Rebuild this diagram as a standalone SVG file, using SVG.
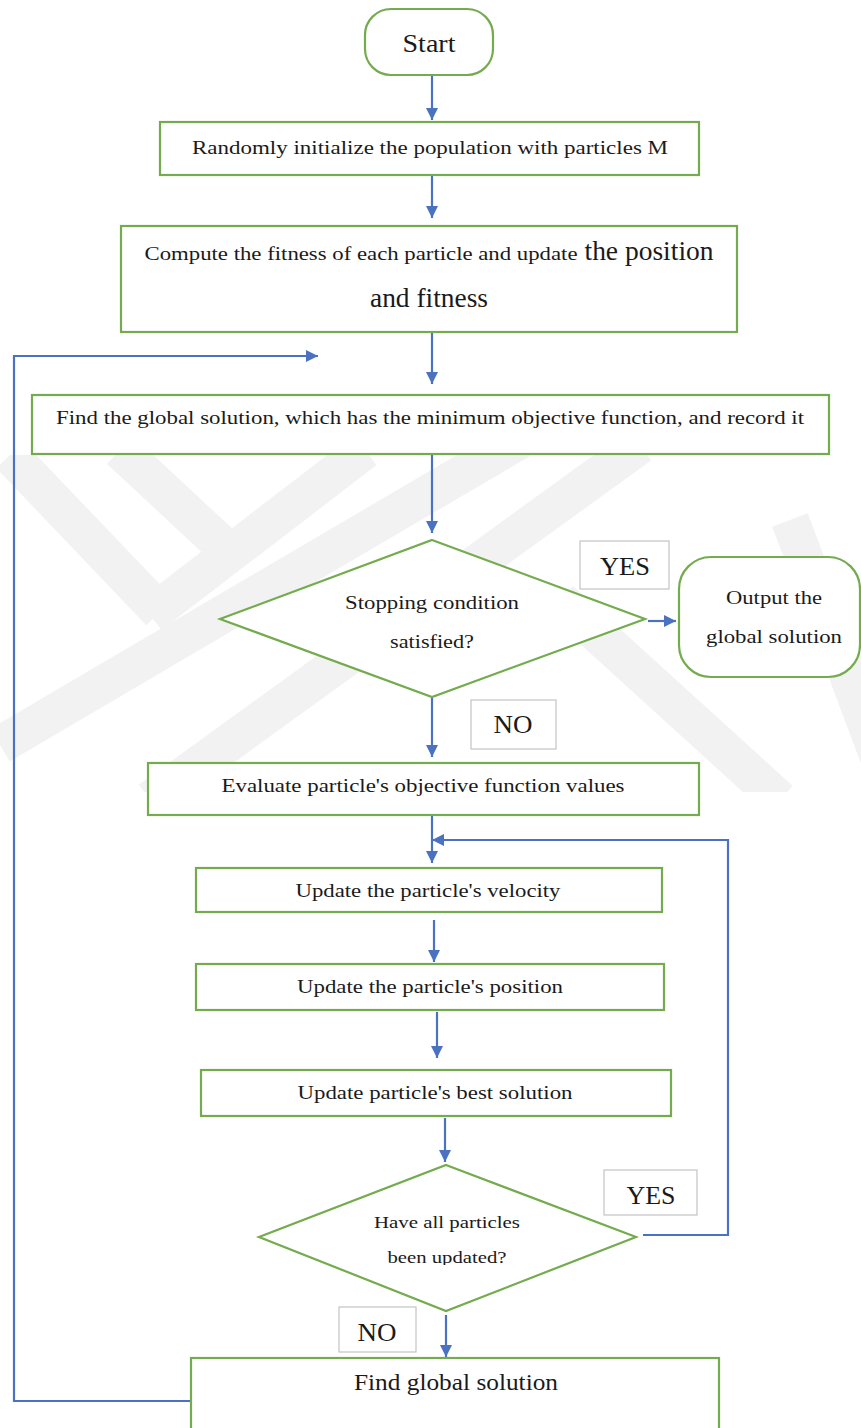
<svg xmlns="http://www.w3.org/2000/svg" width="861" height="1428" viewBox="0 0 861 1428">
<defs>
<style>
.node{fill:#ffffff;stroke:#74ab4e;stroke-width:2.2}
.lbl{fill:#ffffff;stroke:#c4c4c4;stroke-width:1.2}
.t{font-family:'Liberation Serif','DejaVu Serif',serif;fill:#1a1a1a;text-anchor:middle}
.c{fill:none;stroke:#4a72c0;stroke-width:2.2}
.wm{fill:none;stroke:#f2f2f2;stroke-width:38}
</style>
<marker id="ah" viewBox="0 0 10 10" refX="10" refY="5" markerWidth="5.5" markerHeight="5.5" orient="auto" markerUnits="strokeWidth">
<path d="M0,0 L10,5 L0,10 z" fill="#4a72c0"/>
</marker>
<clipPath id="wmclip"><rect x="0" y="455" width="861" height="337"/></clipPath>
<clipPath id="c1"><rect x="300" y="620" width="260" height="28"/></clipPath>
<clipPath id="c2"><rect x="300" y="1240" width="260" height="25"/></clipPath>
</defs>
<rect width="861" height="1428" fill="#ffffff"/>
<g id="watermark" clip-path="url(#wmclip)">
<line class="wm" x1="10" y1="455" x2="160" y2="612"/>
<line class="wm" x1="120" y1="450" x2="222" y2="545"/>
<line class="wm" x1="150" y1="615" x2="365" y2="450"/>
<line class="wm" x1="0" y1="745" x2="520" y2="440"/>
<line class="wm" x1="150" y1="800" x2="640" y2="445"/>
<line class="wm" x1="560" y1="600" x2="780" y2="800"/>
<line class="wm" x1="790" y1="520" x2="880" y2="760"/>
</g>
<g id="connectors">
<line class="c" x1="432" y1="76" x2="432" y2="120" marker-end="url(#ah)"/>
<line class="c" x1="432" y1="176" x2="432" y2="218" marker-end="url(#ah)"/>
<line class="c" x1="432" y1="333" x2="432" y2="384" marker-end="url(#ah)"/>
<polyline class="c" points="191,1401 14,1401 14,356 318,356" marker-end="url(#ah)"/>
<line class="c" x1="432" y1="455" x2="432" y2="533" marker-end="url(#ah)"/>
<line class="c" x1="648" y1="621" x2="676" y2="621" marker-end="url(#ah)"/>
<line class="c" x1="432" y1="698" x2="432" y2="757" marker-end="url(#ah)"/>
<line class="c" x1="432" y1="816" x2="432" y2="863" marker-end="url(#ah)"/>
<polyline class="c" points="643,1235 728,1235 728,840 432,840" marker-end="url(#ah)"/>
<line class="c" x1="434" y1="920" x2="434" y2="962" marker-end="url(#ah)"/>
<line class="c" x1="437" y1="1012" x2="437" y2="1058" marker-end="url(#ah)"/>
<line class="c" x1="445" y1="1118" x2="445" y2="1162" marker-end="url(#ah)"/>
<line class="c" x1="446" y1="1315" x2="446" y2="1357" marker-end="url(#ah)"/>
</g>
<g id="start">
<rect class="node" x="365" y="9" width="128" height="66" rx="26"/>
<text class="t" x="429" y="52" font-size="26" textLength="53" lengthAdjust="spacingAndGlyphs">Start</text>
</g>
<g id="init">
<rect class="node" x="160" y="122" width="539" height="53"/>
<text class="t" x="430" y="154" font-size="19" textLength="476" lengthAdjust="spacingAndGlyphs">Randomly initialize the population with particles M</text>
</g>
<g id="fitness">
<rect class="node" x="121" y="226" width="616" height="106"/>
<text class="t" x="361" y="260" font-size="18.5" textLength="433" lengthAdjust="spacingAndGlyphs">Compute the fitness of each particle and update</text>
<text class="t" x="649" y="260" font-size="27" textLength="129" lengthAdjust="spacingAndGlyphs">the position</text>
<text class="t" x="429" y="307" font-size="27" textLength="118" lengthAdjust="spacingAndGlyphs">and fitness</text>
</g>
<g id="findglobal1">
<rect class="node" x="32" y="395" width="797" height="59"/>
<text class="t" x="430" y="424" font-size="19.5" textLength="748" lengthAdjust="spacingAndGlyphs">Find the global solution, which has the minimum objective function, and record it</text>
</g>
<g id="stopping">
<polygon class="node" points="432,540 645,619 432,697 220,619"/>
<text class="t" x="432" y="609" font-size="19" textLength="174" lengthAdjust="spacingAndGlyphs">Stopping condition</text>
<text class="t" x="432" y="648" font-size="19" textLength="84" lengthAdjust="spacingAndGlyphs" clip-path="url(#c1)">satisfied?</text>
</g>
<g id="yes1">
<rect class="lbl" x="580" y="541" width="89" height="48"/>
<text class="t" x="625" y="575" font-size="26" textLength="50" lengthAdjust="spacingAndGlyphs">YES</text>
</g>
<g id="output">
<rect class="node" x="679" y="557" width="181" height="120" rx="32"/>
<text class="t" x="774" y="604" font-size="19" textLength="96" lengthAdjust="spacingAndGlyphs">Output the</text>
<text class="t" x="774" y="643" font-size="19" textLength="136" lengthAdjust="spacingAndGlyphs">global solution</text>
</g>
<g id="no1">
<rect class="lbl" x="471" y="700" width="85" height="49"/>
<text class="t" x="513" y="733" font-size="26" textLength="39" lengthAdjust="spacingAndGlyphs">NO</text>
</g>
<g id="evaluate">
<rect class="node" x="148" y="763" width="551" height="52"/>
<text class="t" x="423" y="792" font-size="19" textLength="403" lengthAdjust="spacingAndGlyphs">Evaluate particle's objective function values</text>
</g>
<g id="velocity">
<rect class="node" x="196" y="868" width="466" height="44"/>
<text class="t" x="428" y="897" font-size="19.5" textLength="265" lengthAdjust="spacingAndGlyphs">Update the particle's velocity</text>
</g>
<g id="position">
<rect class="node" x="196" y="964" width="468" height="46"/>
<text class="t" x="430" y="993" font-size="19.5" textLength="266" lengthAdjust="spacingAndGlyphs">Update the particle's position</text>
</g>
<g id="best">
<rect class="node" x="201" y="1070" width="470" height="46"/>
<text class="t" x="435" y="1099" font-size="19.5" textLength="275" lengthAdjust="spacingAndGlyphs">Update particle's best solution</text>
</g>
<g id="allupdated">
<polygon class="node" points="446,1165 636,1237 446,1311 259,1237"/>
<text class="t" x="447" y="1228" font-size="16" textLength="146" lengthAdjust="spacingAndGlyphs">Have all particles</text>
<text class="t" x="447" y="1263" font-size="16" textLength="119" lengthAdjust="spacingAndGlyphs" clip-path="url(#c2)">been updated?</text>
</g>
<g id="yes2">
<rect class="lbl" x="604" y="1170" width="93" height="45"/>
<text class="t" x="651" y="1204" font-size="26" textLength="49" lengthAdjust="spacingAndGlyphs">YES</text>
</g>
<g id="no2">
<rect class="lbl" x="339" y="1307" width="77" height="45"/>
<text class="t" x="377" y="1341" font-size="26" textLength="39" lengthAdjust="spacingAndGlyphs">NO</text>
</g>
<g id="findglobal2">
<rect class="node" x="191" y="1358" width="528" height="90"/>
<text class="t" x="456" y="1390" font-size="23.5" textLength="204" lengthAdjust="spacingAndGlyphs">Find global solution</text>
</g>
</svg>
